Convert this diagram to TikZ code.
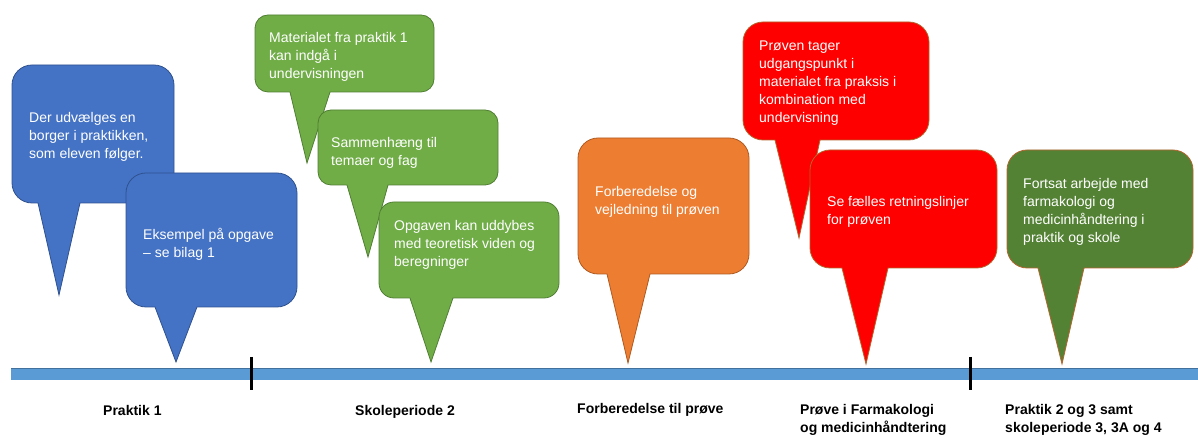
\documentclass[tikz,border=0pt]{standalone}
\usepackage{fontspec}
\setmainfont{Liberation Sans}
\definecolor{cblue}{HTML}{4472C4}
\definecolor{cblueL}{HTML}{2F528F}
\definecolor{cgreen}{HTML}{70AD47}
\definecolor{cgreenL}{HTML}{507E32}
\definecolor{corange}{HTML}{ED7D31}
\definecolor{corangeL}{HTML}{AE5A21}
\definecolor{cred}{HTML}{FF0000}
\definecolor{cdgreen}{HTML}{548235}
\definecolor{cbrownL}{HTML}{B4642D}
\definecolor{cbar}{HTML}{5B9BD5}
\definecolor{cbarL}{HTML}{41719C}
\newcommand\bubble[9]{%
 \draw[#1] ({#2+\R},{435-(#3)}) -- ({#4-\R},{435-(#3)})
  arc[start angle=90,end angle=0,radius=\R pt] -- ({#4},{435-(#5)+\R})
  arc[start angle=0,end angle=-90,radius=\R pt] -- ({#7},{435-(#5)})
  -- ({#8},{435-(#9)}) -- ({#6},{435-(#5)}) -- ({#2+\R},{435-(#5)})
  arc[start angle=270,end angle=180,radius=\R pt] -- ({#2},{435-(#3)-\R})
  arc[start angle=180,end angle=90,radius=\R pt] -- cycle;}
\tikzset{
 bblue/.style={fill=cblue,draw=cblueL,line width=0.8pt},
 bgreen/.style={fill=cgreen,draw=cgreenL,line width=0.8pt},
 borange/.style={fill=corange,draw=corangeL,line width=0.8pt},
 bred/.style={fill=cred,draw=cbrownL,line width=0.8pt},
 bdgreen/.style={fill=cdgreen,draw=cbrownL,line width=0.8pt},
 btext/.style={font=\fontsize{14}{18}\selectfont,text=white,align=left,inner sep=0pt,anchor=north west},
 lab/.style={font=\fontsize{14}{18}\selectfont\bfseries,text=black,align=left,inner sep=0pt,anchor=north west},
 tick/.style={line width=3pt,draw=black}
}
\begin{document}
\begin{tikzpicture}[x=1pt,y=1pt]
\useasboundingbox (0,0) rectangle (1198,435);
% timeline
\fill[cbar] (11,{435-368}) rectangle (1198,{435-380});
\draw[cbarL,line width=0.6pt] (11,{435-368}) -- (1198,{435-368});
\coordinate (k1a) at (251,{435-357}); \coordinate (k1b) at (251,{435-390});
\coordinate (k2a) at (970,{435-357}); \coordinate (k2b) at (970,{435-390});
\draw[tick] (k1a) -- (k1b);
\draw[tick] (k2a) -- (k2b);
% bubbles
\def\R{20}
\bubble{bblue}{12}{65}{174}{203}{38}{80}{59}{295}
\node[btext] (t1) at (29,{435-112}) {Der udvælges en\\borger i praktikken,\\som eleven følger.};
\bubble{bblue}{126}{173}{297}{307}{155}{197}{176}{362}
\node[btext] (t2) at (143,{435-228}) {Eksempel på opgave\\– se bilag 1};
\def\R{13}
\bubble{bgreen}{255}{15}{434}{92}{290}{330}{307}{163}
\node[btext] (t3) at (269,{435-32}) {Materialet fra praktik 1\\kan indgå i\\undervisningen};
\bubble{bgreen}{318}{110}{498}{185}{347}{388}{368}{257}
\node[btext] (t4) at (331,{435-137}) {Sammenhæng  til\\temaer og fag};
\def\R{15}
\bubble{bgreen}{379}{202}{559}{298}{410}{453}{431}{362}
\node[btext] (t5) at (394,{435-220}) {Opgaven kan uddybes\\med teoretisk viden og\\beregninger};
\def\R{20}
\bubble{borange}{578}{138}{749}{274}{607}{650}{628}{363}
\node[btext] (t6) at (595,{435-186}) {Forberedelse og\\vejledning til prøven};
\bubble{bred}{743}{22}{929}{140}{775}{820}{799}{238}
\node[btext] (t7) at (759,{435-41}) {Prøven tager\\udgangspunkt i\\materialet fra praksis i\\kombination  med\\undervisning};
\bubble{bred}{810}{150}{997}{268}{842}{888}{866}{364}
\node[btext] (t8) at (827,{435-196}) {Se fælles retningslinjer\\for prøven};
\bubble{bdgreen}{1007}{150}{1193}{268}{1038}{1084}{1062}{364}
\node[btext] (t9) at (1023,{435-178}) {Fortsat arbejde med\\farmakologi  og\\medicinhåndtering  i\\praktik og skole};
% labels
\node[lab] (l1) at (103,{435-405}) {Praktik 1};
\node[lab] (l2) at (355,{435-405}) {Skoleperiode 2};
\node[lab] (l3) at (577,{435-403}) {Forberedelse til prøve};
\node[lab] (l4) at (800,{435-404}) {Prøve i Farmakologi\\og medicinhåndtering};
\node[lab] (l5) at (1005,{435-404}) {Praktik 2 og 3 samt\\skoleperiode 3, 3A  og 4};
\end{tikzpicture}
\end{document}
